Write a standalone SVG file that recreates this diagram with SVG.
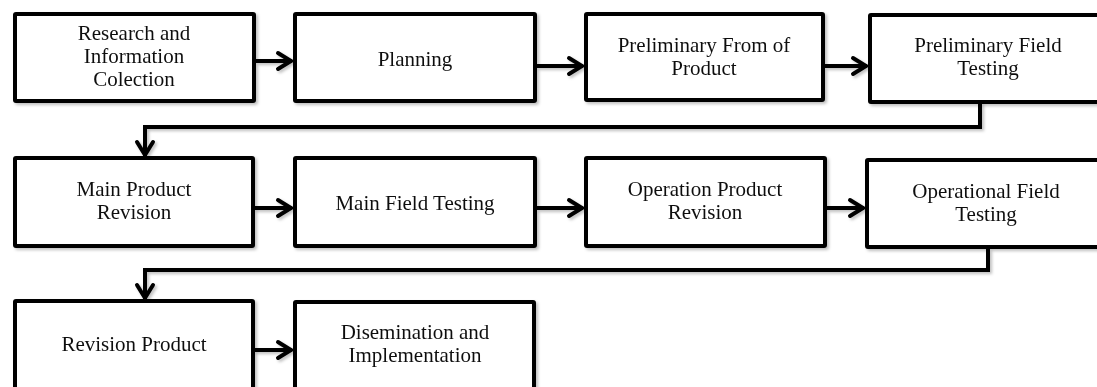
<svg xmlns="http://www.w3.org/2000/svg" width="1097" height="387" viewBox="0 0 1097 387">
<defs>
<filter id="sh" x="-10%" y="-10%" width="130%" height="130%">
<feDropShadow dx="2" dy="2" stdDeviation="1.5" flood-color="#000" flood-opacity="0.25"/>
</filter>
<marker id="ah" markerUnits="userSpaceOnUse" markerWidth="24" markerHeight="24" viewBox="-20 -12 24 24" refX="0" refY="0" orient="auto">
<path d="M-14,-8 L-1,0 L-14,8" fill="none" stroke="#000" stroke-width="4" stroke-linecap="round" stroke-linejoin="miter"/>
</marker>
</defs>
<style>
rect.box{fill:#fff;stroke:#000;stroke-width:4;}
text{font-family:"Liberation Serif","Times New Roman",serif;font-size:21px;fill:#111;text-anchor:middle;}
.con{fill:none;stroke:#000;stroke-width:4;marker-end:url(#ah);}
</style>
<rect width="1097" height="387" fill="#fff"/>
<g id="connectors" filter="url(#sh)">
<path class="con" d="M256,61 H292"/>
<path class="con" d="M537,66 H583"/>
<path class="con" d="M825,66 H867"/>
<path class="con" d="M980,103 V127 H145 V156"/>
<path class="con" d="M254,208 H292"/>
<path class="con" d="M537,208 H583"/>
<path class="con" d="M827,208 H864"/>
<path class="con" d="M988,249 V270 H145 V299"/>
<path class="con" d="M254,350 H292"/>
</g>
<g id="n1" filter="url(#sh)"><rect class="box" x="15" y="14" width="239" height="87" rx="1"/>
<text x="134" y="40">Research and</text><text x="134" y="63">Information</text><text x="134" y="86">Colection</text></g>
<g id="n2" filter="url(#sh)"><rect class="box" x="295" y="14" width="240" height="87" rx="1"/>
<text x="415" y="66">Planning</text></g>
<g id="n3" filter="url(#sh)"><rect class="box" x="586" y="14" width="237" height="86" rx="1"/>
<text x="704" y="52">Preliminary From of</text><text x="704" y="75">Product</text></g>
<g id="n4" filter="url(#sh)"><rect class="box" x="870" y="15" width="240" height="87" rx="1"/>
<text x="988" y="52">Preliminary Field</text><text x="988" y="75">Testing</text></g>
<g id="n5" filter="url(#sh)"><rect class="box" x="15" y="158" width="238" height="88" rx="1"/>
<text x="134" y="196">Main Product</text><text x="134" y="219">Revision</text></g>
<g id="n6" filter="url(#sh)"><rect class="box" x="295" y="158" width="240" height="88" rx="1"/>
<text x="415" y="210">Main Field Testing</text></g>
<g id="n7" filter="url(#sh)"><rect class="box" x="586" y="158" width="239" height="88" rx="1"/>
<text x="705" y="196">Operation Product</text><text x="705" y="219">Revision</text></g>
<g id="n8" filter="url(#sh)"><rect class="box" x="867" y="160" width="240" height="87" rx="1"/>
<text x="986" y="198">Operational Field</text><text x="986" y="221">Testing</text></g>
<g id="n9" filter="url(#sh)"><rect class="box" x="15" y="301" width="238" height="100" rx="1"/>
<text x="134" y="351">Revision Product</text></g>
<g id="n10" filter="url(#sh)"><rect class="box" x="295" y="302" width="239" height="100" rx="1"/>
<text x="415" y="339">Disemination and</text><text x="415" y="362">Implementation</text></g>
</svg>
